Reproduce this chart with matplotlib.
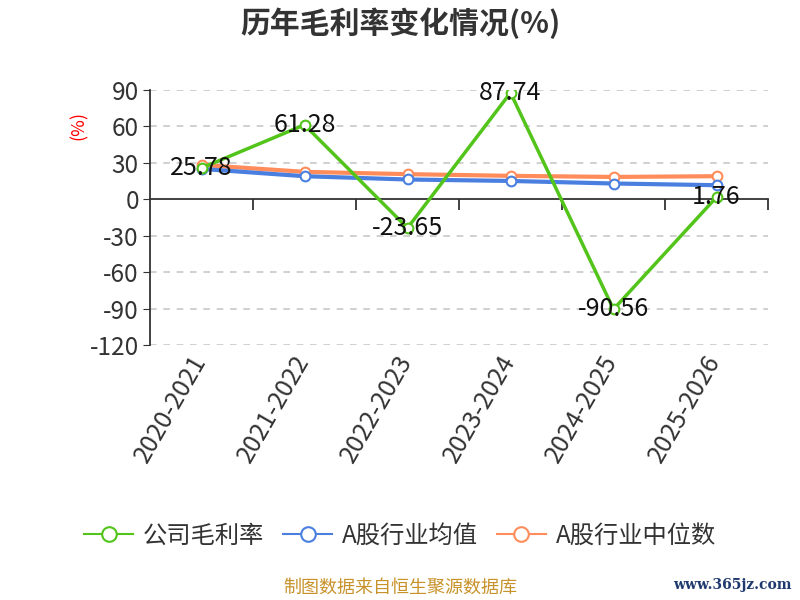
import numpy as np
import matplotlib
matplotlib.use("Agg")
import matplotlib.pyplot as plt

plt.rcParams['font.family'] = ['Noto Sans CJK SC', 'DejaVu Sans']

years = ['2020-2021', '2021-2022', '2022-2023', '2023-2024', '2024-2025', '2025-2026']
company = [25.78, 61.28, -23.65, 87.74, -90.56, 1.76]
ind_mean = [25.0, 19.0, 16.3, 15.1, 13.0, 11.6]
ind_median = [28.3, 22.6, 20.7, 19.3, 18.4, 19.0]
yticks = [90, 60, 30, 0, -30, -60, -90, -120]

c_green = '#52c41a'
c_blue = '#4a7fe0'
c_orange = '#ff8c5a'

fig = plt.figure(figsize=(8, 6), dpi=100)
ax = fig.add_axes([0.1875, 0.425, 0.9600 - 0.1875, 0.425])

x = np.arange(len(years))
ax.plot(x, ind_median, color=c_orange, lw=3, marker='o', ms=7, mfc='white',
        mec=c_orange, mew=1.5, zorder=3, label='A股行业中位数')
ax.plot(x, ind_mean, color=c_blue, lw=3, marker='o', ms=7, mfc='white',
        mec=c_blue, mew=1.5, zorder=3, label='A股行业均值')
ax.plot(x, company, color=c_green, lw=2.5, marker='o', ms=7, mfc='white',
        mec=c_green, mew=1.5, zorder=4, label='公司毛利率')

for xi, v in zip(x, company):
    ax.text(xi, v, f'{v:.2f}', ha='center', va='center', fontsize=18,
            color='#111111', zorder=5)

ax.set_xlim(-0.5, len(years) - 0.5)
ax.set_ylim(-120, 90)
ax.set_yticks(yticks)
ax.set_yticklabels([str(t) for t in yticks], fontsize=17.5, color='#333333')
for t in yticks:
    if t != 0:
        ax.axhline(t, color='#c8c8c8', lw=1.2, ls=(0, (4, 4)), zorder=1)

ax.spines['top'].set_visible(False)
ax.spines['right'].set_visible(False)
ax.spines['bottom'].set_position(('data', 0))
ax.spines['bottom'].set_color('#333333')
ax.spines['left'].set_color('#333333')
ax.spines['bottom'].set_linewidth(1.3)
ax.spines['left'].set_linewidth(1.3)
ax.tick_params(axis='y', length=5, color='#333333', pad=3)

# ticks between categories on the zero line, labels rotated below the axes
ax.set_xticks(np.arange(len(years)) + 0.5)
ax.set_xticklabels([])
ax.tick_params(axis='x', direction='out', length=8, color='#333333', width=1.3)
for xi, lab in zip(x, years):
    ax.annotate(lab, xy=(xi, 0), xycoords=('data', 'axes fraction'),
                xytext=(-9, -4), textcoords='offset points',
                rotation=60, ha='right', va='top', rotation_mode='anchor',
                fontsize=18, color='#333333')

ax.set_ylabel('(%)', color='red', fontsize=13, labelpad=2)
ax.yaxis.set_label_coords(-0.1, 0.86)

fig.text(0.5, 0.962, '历年毛利率变化情况(%)', ha='center', va='center',
         fontsize=21.5, fontweight='bold', color='#333333')

handles, labels = ax.get_legend_handles_labels()
order = [2, 1, 0]
leg = fig.legend([handles[i] for i in order], [labels[i] for i in order],
                 loc='center', bbox_to_anchor=(0.5, 0.107), ncol=3,
                 frameon=False, fontsize=17.5, handlelength=2.0,
                 columnspacing=0.8, handletextpad=0.4, markerscale=1.5,
                 labelcolor='#333333')
for h in leg.legend_handles:
    h.set_linewidth(1.5)

fig.text(0.5, 0.02, '制图数据来自恒生聚源数据库', ha='center', va='center',
         fontsize=13, color='#c8922a')
fig.text(0.99, 0.025, 'www.365jz.com', ha='right', va='center',
         fontsize=10, color='#1f3a6e', family=['DejaVu Serif'],
         fontweight='bold')

fig.savefig('out.png', dpi=100)
